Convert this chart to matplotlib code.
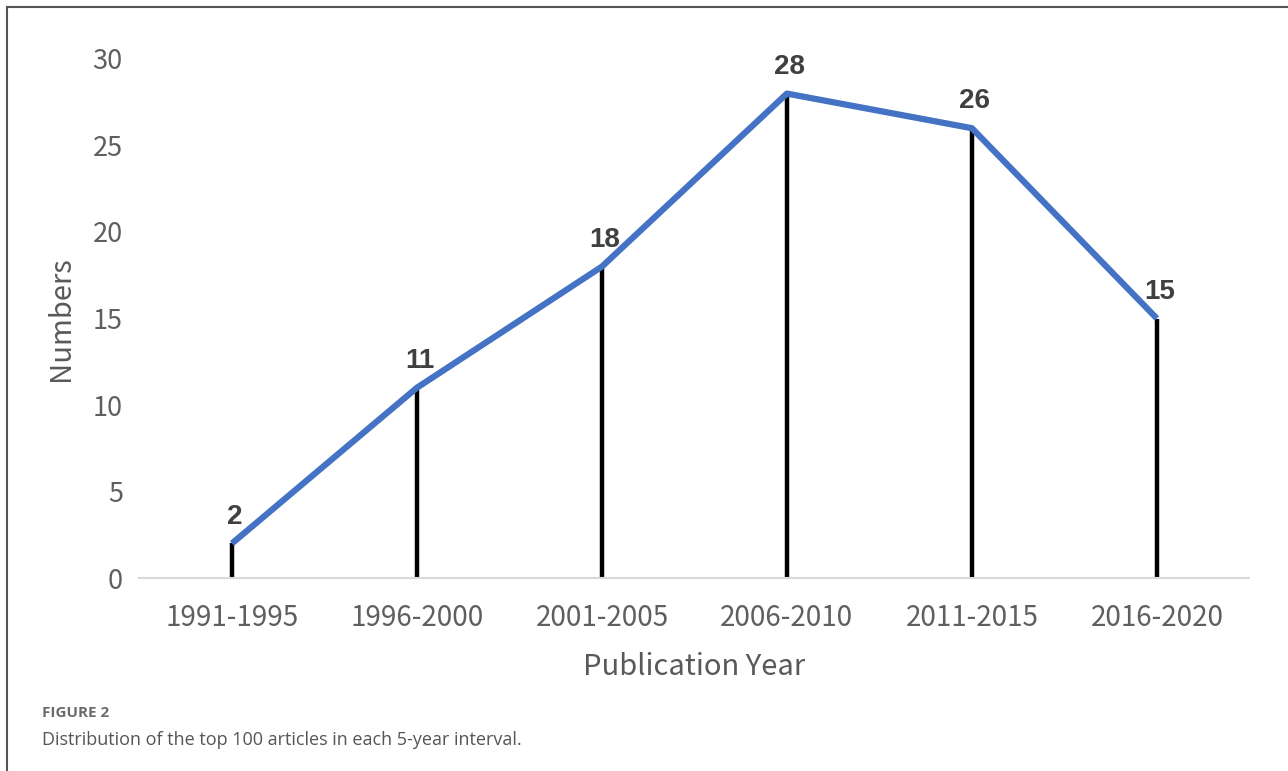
import matplotlib
matplotlib.use("Agg")
import matplotlib.pyplot as plt
from matplotlib.lines import Line2D

categories = ["1991-1995", "1996-2000", "2001-2005", "2006-2010", "2011-2015", "2016-2020"]
values = [2, 11, 18, 28, 26, 15]
yticks = [0, 5, 10, 15, 20, 25, 30]

plt.rcParams['font.family'] = ['Noto Sans CJK SC', 'DejaVu Sans']

fig = plt.figure(figsize=(12.88, 7.71), dpi=100)
ax = fig.add_axes([0.1083, 0.2503, 0.8617, 0.6732])

x = list(range(len(categories)))
ax.vlines(x, 0, values, colors='black', linewidth=3.2, zorder=2)
ax.plot(x, values, color='#4472C4', linewidth=4.5, zorder=3, solid_capstyle='butt')

for xi, v in zip(x, values):
    ax.annotate(str(v), (xi, v), xytext=(2, 10), textcoords='offset points',
                ha='center', va='bottom', fontsize=20, fontweight='bold',
                color='#404040', family=['Liberation Sans', 'DejaVu Sans'])

ax.set_xlim(-0.5, 5.5)
ax.set_ylim(0, 30)
ax.set_yticks(yticks)
ax.set_xticks(x)
ax.set_xticklabels(categories)
for s in ['top', 'right', 'left']:
    ax.spines[s].set_visible(False)
ax.spines['bottom'].set_color('#D9D9D9')
ax.spines['bottom'].set_linewidth(1.5)
ax.tick_params(axis='y', length=0, labelsize=19.5, labelcolor='#5f5f5f', pad=12)
ax.tick_params(axis='x', length=0, labelsize=20, labelcolor='#5f5f5f', pad=18)
for lab in ax.get_xticklabels() + ax.get_yticklabels():
    lab.set_fontweight('light')
ax.set_ylabel('Numbers', fontsize=21, color='#595959', labelpad=12, fontweight='light')
ax.set_xlabel('Publication Year', fontsize=21, color='#595959', labelpad=14, fontweight='light')

fig.text(42/1288, 1 - 713/771, 'FIGURE 2', fontsize=11, fontweight='bold',
         color='#6b6b6b', va='center', ha='left', family=['Open Sans', 'DejaVu Sans'])
fig.text(42/1288, 1 - 740/771, 'Distribution of the top 100 articles in each 5-year interval.',
         fontsize=13, color='#555555', va='center', ha='left', family=['Open Sans', 'DejaVu Sans'])

# border
fig.add_artist(Line2D([7/1288, 7/1288], [0, 1 - 7/771], transform=fig.transFigure,
                      color='#555555', linewidth=1.5))
fig.add_artist(Line2D([7/1288, 1], [1 - 7/771, 1 - 7/771], transform=fig.transFigure,
                      color='#555555', linewidth=1.5))

fig.savefig('out.png', dpi=100, facecolor='white')
